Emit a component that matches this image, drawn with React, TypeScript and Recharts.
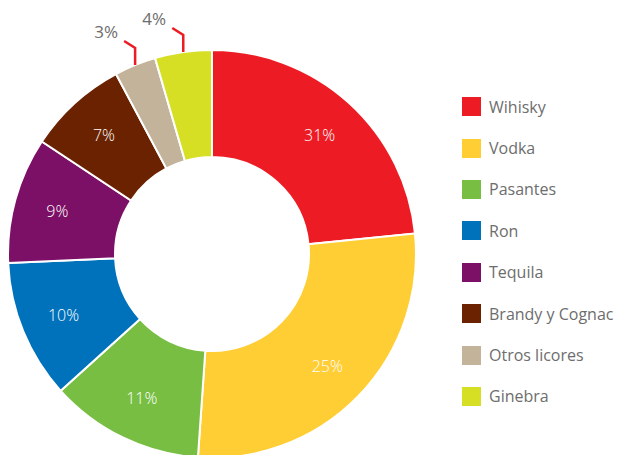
import React from "react";
import { PieChart, Pie, Cell, Legend } from "recharts";

const drinks = [
  "Wihisky",
  "Vodka",
  "Pasantes",
  "Ron",
  "Tequila",
  "Brandy y Cognac",
  "Otros licores",
  "Ginebra",
];
// percentages printed on the chart
const printedShares = [31, 25, 11, 10, 9, 7, 3, 4];
// slice sizes as actually drawn in the picture
const drawnShares = [23.4, 27.7, 12.2, 11.0, 10.0, 7.9, 3.3, 4.5];
const colors = [
  "#ED1C24",
  "#FFCD34",
  "#78BE43",
  "#0072BC",
  "#7C0F66",
  "#6A2200",
  "#C2B39A",
  "#D6DF23",
];

const chartData = drinks.map((name, i) => ({
  name,
  value: drawnShares[i],
  printed: printedShares[i],
}));

const RAD = Math.PI / 180;
const FONT = "'Open Sans', sans-serif";

const renderLabel = (props: any) => {
  const { cx, cy, midAngle, innerRadius, outerRadius, index } = props;
  const text = `${printedShares[index]}%`;
  const cos = Math.cos(-midAngle * RAD);
  const sin = Math.sin(-midAngle * RAD);
  if (index >= 6) {
    // small slices: label outside with a red leader
    const x0 = cx + outerRadius * cos;
    const y0 = cy + outerRadius * sin;
    return (
      <g key={`lbl-${index}`}>
        <polyline
          points={`${x0},${y0} ${x0},${y0 - 17} ${x0 - 11},${y0 - 24}`}
          fill="none"
          stroke="#ED1C24"
          strokeWidth={2.5}
        />
        <text
          x={x0 - 29}
          y={y0 - 34}
          fill="#6d6d6d"
          fontSize={17}
          fontFamily={FONT}
          textAnchor="middle"
          dominantBaseline="central"
        >
          {text}
        </text>
      </g>
    );
  }
  const r = (innerRadius + outerRadius) / 2 + 10;
  return (
    <text
      key={`lbl-${index}`}
      x={cx + r * cos}
      y={cy + r * sin}
      fill="#ffffff"
      fontSize={16}
      fontWeight={300}
      fontFamily={FONT}
      textAnchor="middle"
      dominantBaseline="central"
    >
      {text}
    </text>
  );
};

const renderLegend = () => (
  <div style={{ fontFamily: FONT }}>
    {drinks.map((name, i) => (
      <div
        key={name}
        style={{
          display: "flex",
          alignItems: "center",
          height: 41.4,
        }}
      >
        <span
          style={{
            display: "inline-block",
            width: 19,
            height: 19,
            background: colors[i],
            marginRight: 8,
          }}
        />
        <span style={{ color: "#6d6d6d", fontSize: 16, whiteSpace: "nowrap" }}>
          {name}
        </span>
      </div>
    ))}
  </div>
);

const App: React.FC = () => (
  <div style={{ position: "absolute", left: 0, top: 0 }}>
    <PieChart width={627} height={455} margin={{ top: 0, right: 0, bottom: 0, left: 0 }}>
      <Pie
        data={chartData}
        dataKey="value"
        nameKey="name"
        cx={212}
        cy={254}
        innerRadius={97}
        outerRadius={204}
        startAngle={90}
        endAngle={-270}
        stroke="#ffffff"
        strokeWidth={2}
        label={renderLabel}
        labelLine={false}
        isAnimationActive={false}
      >
        {chartData.map((d, i) => (
          <Cell key={d.name} fill={colors[i]} />
        ))}
      </Pie>
      <Legend
        content={renderLegend}
        layout="vertical"
        wrapperStyle={{ left: 462, top: 86, width: 165 }}
      />
    </PieChart>
  </div>
);

export default App;
